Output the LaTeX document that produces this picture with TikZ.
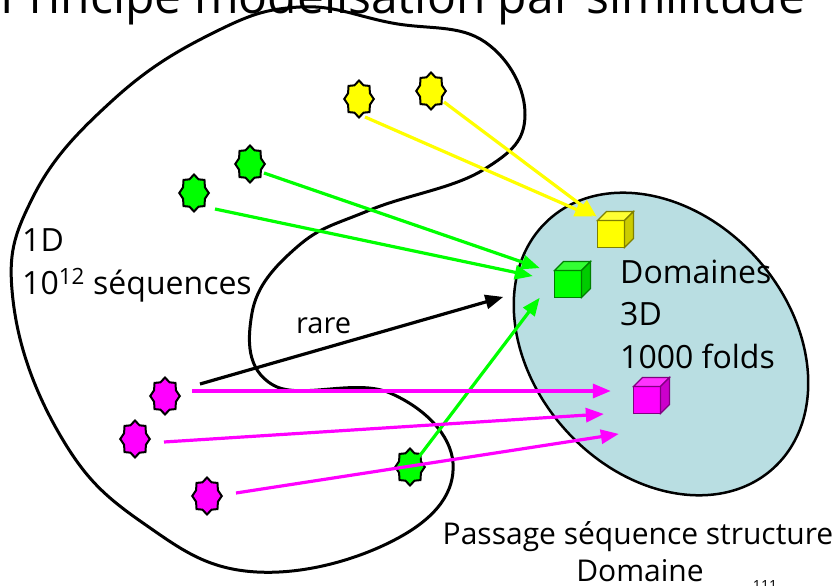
\documentclass[tikz,border=0pt]{standalone}
\usepackage{fontspec}
\setmainfont{Open Sans}
\usetikzlibrary{arrows,shapes.geometric}
\definecolor{jaune}{RGB}{255,255,0}
\definecolor{vert}{RGB}{0,255,0}
\definecolor{rose}{RGB}{255,0,255}
\definecolor{bleuclair}{RGB}{185,222,226}
\begin{document}
\begin{tikzpicture}[x=1pt,y=-1pt,
    etoile/.style={draw,line width=2pt,star,star points=8,star point ratio=1.25,minimum size=37pt,inner sep=0pt,xscale=0.8,outer sep=0pt},
    fleche/.style={line width=3.2pt,-triangle 45},
    cubeface/.style={draw,line width=1.2pt,minimum size=27pt,inner sep=0pt,outer sep=0pt},
    texte/.style={anchor=base west,inner sep=0pt,font=\fontsize{32}{32}\selectfont},
    legende/.style={anchor=base,inner sep=0pt,font=\fontsize{30}{30}\selectfont}]
        \useasboundingbox (0,0) rectangle (836,586);
        \clip (0,0) rectangle (836,586);
        \fill[white] (0,0) rectangle (836,586);
        %
        \node[anchor=base west,inner sep=0pt,font=\fontsize{48}{48}\selectfont](titre) at (0,14){Principe modélisation par similitude};
        %
        \node[draw,line width=2.5pt,ellipse,fill=bleuclair,minimum width=335pt,minimum height=257pt,rotate=-48](domaines) at (661,344){};
        %
        \draw[line width=3pt] plot[smooth cycle,tension=0.7] coordinates {
            (300,7) (392,23) (485,42) (525,115) (483,170)
            (370,210) (297,247) (252,313) (273,385)
            (390,393) (453,463) (400,537) (257,572) (143,523)
            (60,435) (13,300) (33,197) (113,100) (213,33)};
        %
        \node[etoile,fill=jaune](jaunea) at (359,99){};
        \node[etoile,fill=jaune](jauneb) at (431,91){};
        \node[etoile,fill=vert](vertea) at (250,164){};
        \node[etoile,fill=vert](verteb) at (194,193){};
        \node[etoile,fill=vert](vertec) at (410,467){};
        \node[etoile,fill=rose](rosea) at (165,396){};
        \node[etoile,fill=rose](roseb) at (135,439){};
        \node[etoile,fill=rose](rosec) at (207,496){};
        %
        \foreach \nom/\coul/\px/\py in {cubej/jaune/611/234,cubev/vert/568/284,cubem/rose/647/400}{
            \node[cubeface,draw=\coul!50!black,fill=\coul](\nom) at (\px,\py){};
            \draw[line width=1.2pt,draw=\coul!50!black,fill=\coul!80!white] (\nom.north west) -- ++(9,-9) -- ++(27,0) -- (\nom.north east) -- cycle;
            \draw[line width=1.2pt,draw=\coul!50!black,fill=\coul!80!black] (\nom.north east) -- ++(9,-9) -- ++(0,27) -- (\nom.south east) -- cycle;
        }
        %
        \coordinate[xshift=6pt,yshift=-18pt](ja) at (jaunea);
        \coordinate[xshift=13pt,yshift=-11pt](jb) at (jauneb);
        \coordinate[xshift=-5pt,yshift=4pt](jc) at (cubej.north west);
        \coordinate[xshift=-1pt,yshift=4pt](jd) at (cubej.north west);
        %
        \coordinate[xshift=14pt,yshift=-9pt](va) at (vertea);
        \coordinate[xshift=21pt,yshift=-16pt](vb) at (verteb);
        \coordinate[xshift=8pt,yshift=9pt](vc) at (vertec);
        \coordinate[xshift=-15pt,yshift=16pt](vd) at (cubev.west);
        \coordinate[xshift=-22pt,yshift=8pt](ve) at (cubev.west);
        \coordinate[xshift=-15pt,yshift=-14pt](vf) at (cubev.west);
        %
        \coordinate[xshift=27pt,yshift=5pt](ra) at (rosea);
        \coordinate[xshift=29pt,yshift=-3pt](rb) at (roseb);
        \coordinate[xshift=29pt,yshift=3pt](rc) at (rosec);
        \coordinate[xshift=-23pt,yshift=9pt](rd) at (cubem.west);
        \coordinate[xshift=-30pt,yshift=-14pt](re) at (cubem.west);
        \coordinate[xshift=-15pt,yshift=-34pt](rf) at (cubem.west);
        %
        \coordinate[xshift=35pt,yshift=12pt](na) at (rosea);
        \coordinate[xshift=-65pt,yshift=-13pt](nb) at (cubev);
        %
        \draw[fleche,jaune] (ja) -- (jc);
        \draw[fleche,jaune] (jb) -- (jd);
        \draw[fleche,vert] (va) -- (vd);
        \draw[fleche,vert] (vb) -- (ve);
        \draw[fleche,vert] (vc) -- (vf);
        \draw[fleche,black] (na) -- (nb);
        \draw[fleche,rose] (ra) -- (rd);
        \draw[fleche,rose] (rb) -- (re);
        \draw[fleche,rose] (rc) -- (rf);
        %
        \node[texte](una) at (22,251){1D};
        \node[texte](seq) at (22,294){10\textsuperscript{12} séquences};
        \node[texte,font=\fontsize{29}{29}\selectfont](rare) at (296,333){rare};
        \node[texte](dom) at (620,283){Domaines};
        \node[texte](trois) at (620,325){3D};
        \node[texte](folds) at (620,368){1000 folds};
        \node[legende](passage) at (638,544){Passage séquence structure};
        \node[legende](domaine) at (640,581){Domaine};
        \node[anchor=base,inner sep=0pt,font=\fontsize{14}{14}\selectfont](numero) at (765,590){111};
\end{tikzpicture}
\end{document}
